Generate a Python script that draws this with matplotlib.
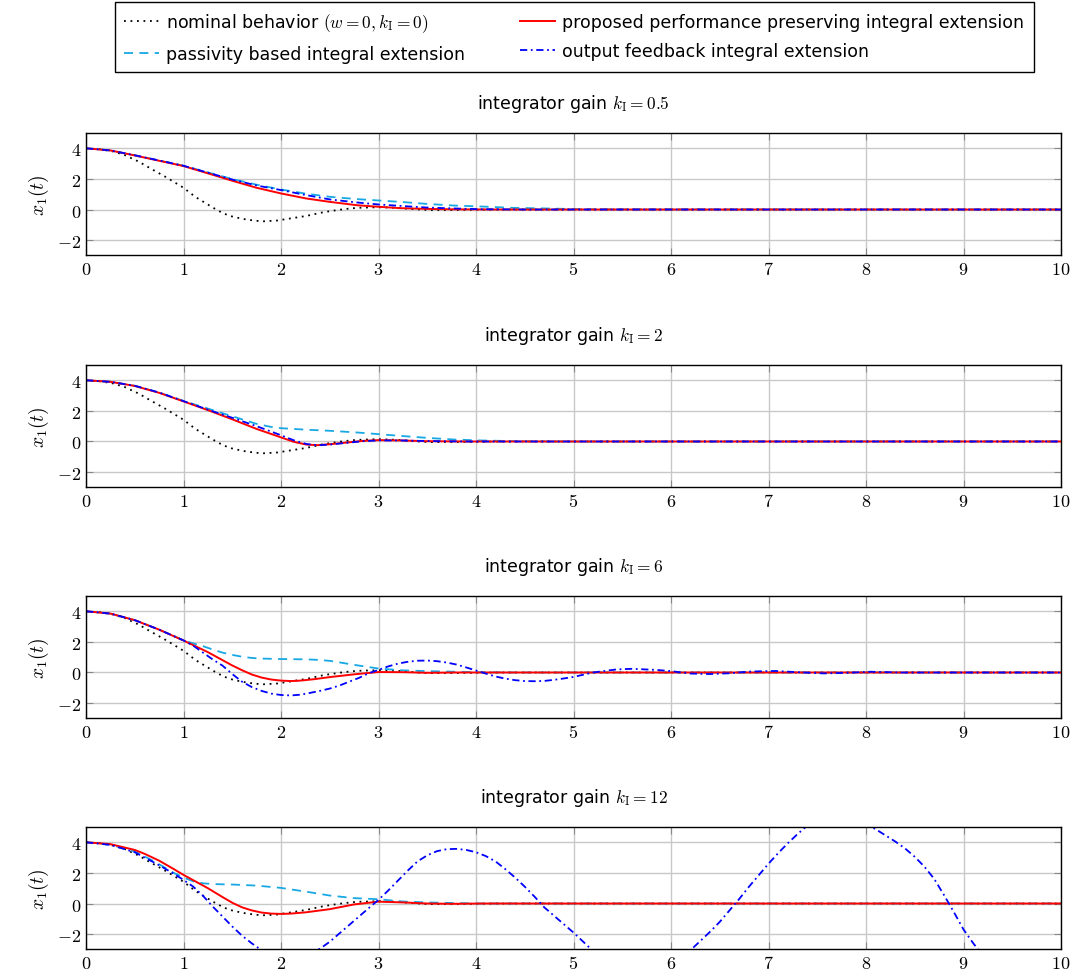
import matplotlib
matplotlib.use("Agg")
import matplotlib.pyplot as plt

plt.rcParams['font.family'] = ['DejaVu Sans']
plt.rcParams['mathtext.fontset'] = 'cm'

# ---- data ----
gains = ['0.5', '2', '6', '12']

# nominal behaviour (same in every panel)
t_nom = [0, 0.15, 0.28, 0.4, 0.54, 0.66, 0.83, 1.0, 1.12, 1.3, 1.41, 1.51, 1.65, 1.75, 1.82,
         1.96, 2.09, 2.26, 2.4, 2.5, 2.64, 2.78, 3.0, 3.19, 3.36, 3.53, 3.8, 4.2, 10]
x_nom = [4, 3.93, 3.79, 3.55, 3.13, 2.69, 2.08, 1.42, 0.83, 0.13, -0.26, -0.48, -0.66, -0.74, -0.77,
         -0.72, -0.59, -0.42, -0.22, -0.11, 0.02, 0.11, 0.15, 0.11, 0.02, -0.04, -0.03, 0, 0]

# k_I = 0.5
t_p1 = [0, 0.25, 0.51, 0.79, 1.0, 1.31, 1.5, 1.75, 2.0, 2.26, 2.5, 2.78, 3.0, 3.22, 3.49, 3.8, 4.2, 10]
x_p1 = [4, 3.86, 3.52, 3.13, 2.84, 2.25, 1.88, 1.42, 1.05, 0.72, 0.5, 0.28, 0.18, 0.09, 0.04, 0.01, 0, 0]
t_c1 = [0, 0.25, 0.51, 0.79, 1.0, 1.31, 1.5, 1.75, 2.0, 2.26, 2.5, 2.78, 3.0, 3.22, 3.49, 3.77, 4.04,
        4.38, 4.72, 5.0, 5.4, 10]
x_c1 = [4, 3.86, 3.53, 3.15, 2.86, 2.32, 1.99, 1.62, 1.31, 1.03, 0.83, 0.68, 0.59, 0.5, 0.37, 0.26, 0.2,
        0.11, 0.07, 0.03, 0.01, 0]
t_o1 = [0, 0.25, 0.51, 0.79, 1.0, 1.31, 1.5, 1.75, 2.0, 2.26, 2.5, 2.78, 3.0, 3.22, 3.49, 3.77, 4.04,
        4.5, 10]
x_o1 = [4, 3.86, 3.53, 3.15, 2.86, 2.3, 1.96, 1.57, 1.27, 0.94, 0.66, 0.46, 0.33, 0.24, 0.13, 0.07, 0.02,
        0, 0]

# k_I = 2
t_p2 = [0, 0.25, 0.5, 0.75, 1.0, 1.25, 1.5, 1.75, 2.0, 2.13, 2.26, 2.37, 2.5, 2.67, 2.84, 3.0, 3.22,
        3.49, 3.9, 10]
x_p2 = [4, 3.9, 3.63, 3.18, 2.62, 2.05, 1.45, 0.82, 0.27, -0.02, -0.2, -0.24, -0.18, -0.07, 0.04, 0.09,
        0.07, 0.02, 0, 0]
t_c2 = [0, 0.25, 0.5, 0.75, 1.0, 1.25, 1.5, 1.65, 1.75, 1.9, 2.0, 2.26, 2.5, 2.78, 3.0, 3.22, 3.49, 3.77,
        4.04, 4.4, 4.8, 10]
x_c2 = [4, 3.9, 3.64, 3.2, 2.65, 2.15, 1.65, 1.35, 1.15, 0.95, 0.87, 0.77, 0.7, 0.59, 0.48, 0.37, 0.24,
        0.13, 0.07, 0.02, 0, 0]
t_o2 = [0, 0.25, 0.5, 0.75, 1.0, 1.25, 1.5, 1.75, 2.0, 2.13, 2.26, 2.37, 2.5, 2.67, 2.84, 3.0, 3.22,
        3.49, 3.9, 10]
x_o2 = [4, 3.9, 3.64, 3.2, 2.64, 2.08, 1.55, 1.0, 0.41, 0.08, -0.16, -0.25, -0.2, -0.09, 0.02, 0.07,
        0.07, 0.03, 0, 0]

# k_I = 6
t_p3 = [0, 0.25, 0.5, 0.75, 1.0, 1.25, 1.5, 1.6, 1.7, 1.8, 1.9, 2.0, 2.1, 2.2, 2.35, 2.5, 2.75, 3.0,
        3.25, 3.5, 3.8, 10]
x_p3 = [4, 3.85, 3.42, 2.8, 2.09, 1.33, 0.46, 0.15, -0.13, -0.33, -0.46, -0.53, -0.56, -0.53, -0.43,
        -0.3, -0.12, 0.03, 0.02, -0.02, 0, 0]
t_c3 = [0, 0.25, 0.5, 0.75, 1.0, 1.1, 1.2, 1.3, 1.4, 1.5, 1.6, 1.7, 1.8, 2.0, 2.25, 2.4, 2.5, 2.6, 2.75,
        3.0, 3.25, 3.5, 4.0, 4.4, 10]
x_c3 = [4, 3.85, 3.42, 2.8, 2.1, 1.9, 1.72, 1.5, 1.3, 1.15, 1.03, 0.95, 0.91, 0.88, 0.86, 0.82, 0.76,
        0.66, 0.5, 0.26, 0.14, 0.09, 0.02, 0, 0]
t_o3 = [0, 0.25, 0.5, 0.75, 1.0, 1.1, 1.2, 1.3, 1.4, 1.5, 1.6, 1.7, 1.8, 1.9, 2.0, 2.1, 2.2, 2.3, 2.4,
        2.5, 2.6, 2.7, 2.8, 2.9, 3.0, 3.1, 3.2, 3.3, 3.4, 3.5, 3.6, 3.7, 3.8, 3.9, 4.0, 4.1, 4.2, 4.3,
        4.4, 4.5, 4.6, 4.7, 4.8, 4.9, 5.0, 5.2, 5.44, 5.6, 5.85, 6.0, 6.2, 6.4, 6.6, 6.8, 7.07, 7.3,
        7.57, 7.8, 8.05, 8.35, 8.7, 10]
x_o3 = [4, 3.85, 3.42, 2.8, 2.1, 1.75, 1.3, 0.85, 0.45, -0.1, -0.6, -0.95, -1.2, -1.38, -1.47, -1.5,
        -1.45, -1.33, -1.2, -1.05, -0.85, -0.6, -0.35, -0.05, 0.17, 0.4, 0.58, 0.7, 0.77, 0.78, 0.74,
        0.65, 0.52, 0.33, 0.13, -0.07, -0.26, -0.4, -0.5, -0.56, -0.57, -0.55, -0.48, -0.39, -0.29, 0.0,
        0.2, 0.24, 0.17, 0.09, -0.07, -0.1, -0.05, 0.06, 0.1, 0.02, -0.06, -0.02, 0.05, 0.0, 0, 0]

# k_I = 12
t_p4 = [0, 0.25, 0.5, 0.6, 0.75, 0.9, 1.0, 1.25, 1.4, 1.5, 1.6, 1.7, 1.8, 1.9, 2.0, 2.1, 2.25, 2.5,
        2.75, 3.0, 3.25, 3.5, 3.75, 4.1, 10]
x_p4 = [4, 3.88, 3.5, 3.25, 2.8, 2.25, 1.87, 1.0, 0.42, 0.05, -0.25, -0.45, -0.59, -0.66, -0.68, -0.66,
        -0.58, -0.37, -0.06, 0.12, 0.07, 0.0, -0.02, 0, 0]
t_c4 = [0, 0.25, 0.5, 0.7, 0.9, 1.0, 1.1, 1.2, 1.3, 1.5, 1.75, 2.0, 2.28, 2.5, 2.75, 3.0, 3.25, 3.5,
        4.0, 10]
x_c4 = [4, 3.85, 3.4, 2.75, 2.0, 1.7, 1.45, 1.32, 1.27, 1.24, 1.17, 1.02, 0.75, 0.52, 0.35, 0.28, 0.13,
        0.07, 0, 0]
t_o4 = [0, 0.25, 0.5, 0.75, 0.9, 1.0, 1.1, 1.2, 1.3, 1.4, 1.5, 1.6, 1.7, 1.8, 1.9, 2.0, 2.1, 2.2, 2.3,
        2.4, 2.5, 2.6, 2.7, 2.8, 2.9, 3.0, 3.1, 3.2, 3.3, 3.4, 3.5, 3.6, 3.7, 3.8, 3.9, 4.0, 4.1, 4.2,
        4.3, 4.4, 4.5, 4.6, 4.7, 4.8, 4.9, 5.0, 5.1, 5.2, 5.67, 6.2, 6.3, 6.4, 6.5, 6.6, 6.7, 6.8, 6.9,
        7.0, 7.1, 7.2, 7.3, 7.4, 7.5, 7.6, 7.7, 7.8, 7.9, 8.0, 8.1, 8.2, 8.3, 8.4, 8.5, 8.6, 8.7, 8.8,
        8.9, 9.0, 9.1, 9.2, 9.6, 10]
x_o4 = [4, 3.83, 3.35, 2.5, 1.95, 1.54, 1.1, 0.5, -0.2, -0.85, -1.5, -2.1, -2.6, -3.05, -3.3, -3.45,
        -3.5, -3.45, -3.3, -2.95, -2.5, -1.95, -1.4, -0.85, -0.3, 0.24, 0.85, 1.5, 2.15, 2.75, 3.15,
        3.42, 3.55, 3.57, 3.5, 3.35, 3.1, 2.75, 2.25, 1.7, 1.1, 0.45, -0.25, -0.8, -1.35, -1.9, -2.5,
        -3.1, -4.6, -3.05, -2.45, -1.85, -1.2, -0.45, 0.3, 1.1, 1.85, 2.6, 3.3, 3.95, 4.55, 5.1, 5.5,
        5.7, 5.75, 5.7, 5.5, 5.2, 4.85, 4.45, 4.05, 3.6, 3.05, 2.4, 1.6, 0.55, -0.55, -1.7, -2.6, -3.4,
        -5.0, -5.5]

prop_t = [t_p1, t_p2, t_p3, t_p4]
prop_x = [x_p1, x_p2, x_p3, x_p4]
pass_t = [t_c1, t_c2, t_c3, t_c4]
pass_x = [x_c1, x_c2, x_c3, x_c4]
out_t = [t_o1, t_o2, t_o3, t_o4]
out_x = [x_o1, x_o2, x_o3, x_o4]

labels = [r'nominal behavior $(w=0, k_\mathrm{I}=0)$',
          'passivity based integral extension',
          'proposed performance preserving integral extension',
          'output feedback integral extension']

# ---- figure ----
fig = plt.figure(figsize=(10.75, 9.78), dpi=100)
tops = [0.863, 0.6258, 0.3896, 0.1534]
h = 0.1252

for i, g in enumerate(gains):
    ax = fig.add_axes([0.08, tops[i] - h, 0.907, h])
    ax.plot(t_nom, x_nom, color='black', ls=(0, (1, 2.6)), lw=1.3, label=labels[0])
    ax.plot(pass_t[i], pass_x[i], color='#18a8e4', ls=(0, (5, 3.5)), lw=1.3, label=labels[1])
    ax.plot(prop_t[i], prop_x[i], color='#ff0000', lw=1.4, label=labels[2])
    ax.plot(out_t[i], out_x[i], color='#0000ff', ls=(0, (4, 2, 1, 2)), lw=1.3, label=labels[3])
    ax.set_xlim(0, 10)
    ax.set_ylim(-3, 5)
    ax.set_xticks(range(11))
    ax.set_yticks([-2, 0, 2, 4])
    ax.set_xticklabels([f'${k}$' for k in range(11)])
    ax.set_yticklabels(['$-2$', '$0$', '$2$', '$4$'])
    ax.tick_params(labelsize=13, direction='in', top=True, right=True, color='#888888', length=5)
    ax.grid(True, color='#c8c8c8', lw=1.0)
    ax.set_axisbelow(True)
    ax.set_ylabel('$x_1(t)$', fontsize=14, labelpad=4)
    ax.set_title(r'integrator gain $k_\mathrm{I} = ' + g + '$', fontsize=12.5, pad=18)
    for s in ax.spines.values():
        s.set_linewidth(1.0)
    if i == 0:
        handles, labs = ax.get_legend_handles_labels()

fig.legend(handles, labs, loc='upper center', bbox_to_anchor=(0.534, 0.997), ncol=2,
           fontsize=12.5, frameon=True, fancybox=False, edgecolor='black', framealpha=1,
           handlelength=2.0, handletextpad=0.4, columnspacing=3.2, borderpad=0.55,
           labelspacing=0.6, borderaxespad=0.0)

plt.savefig('out.png', dpi=100)
